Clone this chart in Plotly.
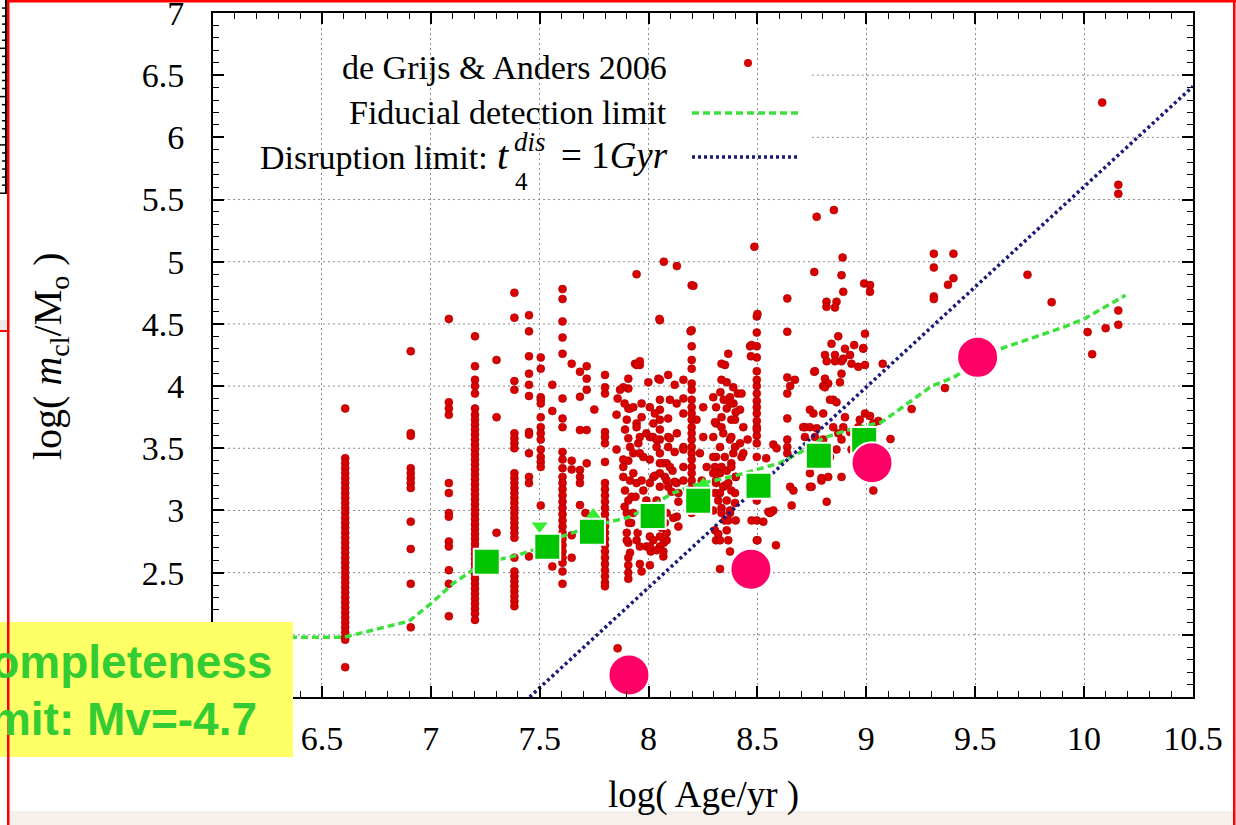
import plotly.graph_objects as go

# ---------------- data ----------------
# de Grijs & Anders 2006 clusters that sit in vertical runs at a shared age
age_661 = 6.607
mass_661 = [3.82, 3.42, 3.38, 3.34, 3.30, 3.26, 3.22, 3.18, 3.14, 3.10, 3.06, 3.02,
            2.98, 2.94, 2.90, 2.86, 2.82, 2.78, 2.74, 2.70, 2.66, 2.62, 2.58, 2.54,
            2.50, 2.46, 2.42, 2.38, 2.34, 2.30, 2.26, 2.22, 2.18, 2.14, 2.10, 2.06,
            2.02, 1.98, 1.96, 1.74]
age_691 = 6.908
mass_691 = [4.28, 3.62, 3.60, 3.34, 3.30, 3.26, 3.22, 3.18, 2.91, 2.69, 2.41, 2.06]
age_708 = 7.083
mass_708 = [4.54, 3.87, 3.82, 3.77, 3.22, 3.14, 2.98, 2.95, 2.75, 2.71, 2.52, 2.41, 2.15]
age_720 = 7.203
mass_720 = [4.40, 4.16, 4.05, 4.00, 3.94, 3.82, 3.77, 3.73, 3.69, 3.65, 3.61, 3.57,
            3.53, 3.49, 3.45, 3.41, 3.37, 3.33, 3.29, 3.25, 3.21, 3.17, 3.13, 3.09,
            3.05, 3.01, 2.97, 2.93, 2.89, 2.85, 2.81, 2.77, 2.73, 2.69, 2.65, 2.61,
            2.57, 2.53, 2.49, 2.45, 2.41, 2.37, 2.33, 2.29, 2.25, 2.21, 2.17, 2.12]
age_730 = 7.302
mass_730 = [4.21, 3.75, 2.82]
age_738 = 7.384
mass_738 = [4.75, 4.55, 4.04, 3.97, 3.62, 3.58, 3.54, 3.50, 3.30, 3.26, 3.22, 3.18,
            3.14, 3.10, 3.06, 3.02, 2.98, 2.94, 2.90, 2.86, 2.82, 2.78, 2.62, 2.51,
            2.47, 2.43, 2.39, 2.35, 2.31, 2.27, 2.23]
age_745 = 7.451
mass_745 = [4.57, 4.44, 4.24, 4.10, 4.01, 3.92, 3.63, 3.61, 3.46, 3.27, 3.22, 2.63]
age_750 = 7.505
mass_750 = [4.23, 4.14, 3.91, 3.89, 3.86, 3.75, 3.67, 3.62, 3.57, 3.49, 3.43, 3.39,
            3.35, 3.04, 2.73]
age_756 = 7.558
mass_756 = [4.01, 3.80, 2.55]
age_760 = 7.605
mass_760 = [4.78, 4.70, 4.52, 4.39, 4.26, 3.90, 3.74, 3.67, 3.47, 3.41, 3.34, 3.27,
            3.22, 3.17, 3.12, 3.07, 3.02, 2.97, 2.92, 2.87, 2.82, 2.77, 2.72, 2.67,
            2.62, 2.58, 2.51, 2.41]
age_765 = 7.647
mass_765 = [4.18, 3.40, 3.33, 2.80, 2.62]
age_780 = 7.800
mass_780 = [4.09, 3.99, 3.94, 3.63, 3.59, 3.54, 3.39, 3.22, 3.17, 3.12, 3.07, 3.02,
            2.97, 2.92, 2.87, 2.82, 2.77, 2.72, 2.67, 2.62, 2.57, 2.52, 2.47, 2.42, 2.39]
age_791 = 7.907
mass_791 = [3.98, 3.82, 3.58, 3.40, 3.08, 2.62, 2.50]
age_820 = 8.198
mass_820 = [4.81, 4.45, 4.32, 4.21, 4.14, 4.02, 3.97, 3.89, 3.83, 3.78, 3.73, 3.67,
            3.62, 3.57, 3.51, 3.46, 3.41, 3.35, 3.30, 3.24, 3.19, 2.98]
age_850 = 8.497
mass_850 = [4.56, 4.43, 4.32, 4.23, 4.12, 4.05, 4.00, 3.94, 3.88, 3.83, 3.78, 3.72,
            3.67, 3.65, 3.60, 3.54, 3.43, 3.08, 2.92, 2.76]

# de Grijs & Anders 2006 clusters scattered in the cloud: (log age, log mass)
cloud_a = [(7.685, 4.115), (7.716, 4.16), (7.716, 4.06), (7.716, 3.97), (7.685, 3.914),
           (7.716, 3.646), (7.685, 3.646), (7.716, 3.379), (7.685, 3.325), (7.685, 3.27),
           (7.685, 3.22), (7.685, 3.043), (7.71, 2.98), (7.751, 3.811), (7.858, 3.90),
           (7.884, 3.99), (7.907, 4.06), (7.938, 4.18), (7.96, 4.17), (7.915, 3.82),
           (7.853, 3.77), (7.892, 3.65), (7.945, 3.70), (7.968, 3.86), (7.968, 3.75),
           (7.999, 4.03), (8.006, 3.83), (8.022, 3.70), (7.853, 3.49), (7.884, 3.41),
           (7.915, 3.51), (7.93, 3.46), (7.953, 3.54), (7.976, 3.43), (8.006, 3.59),
           (8.037, 3.51), (8.068, 3.38), (7.884, 3.27), (7.915, 3.24), (7.892, 3.16),
           (7.922, 3.11), (7.945, 3.22), (7.976, 3.16), (8.006, 3.22), (7.90, 2.98),
           (7.92, 2.90), (7.90, 2.82), (7.945, 2.76), (7.907, 2.74), (7.907, 2.56),
           (7.96, 2.57), (8.006, 2.56), (7.968, 2.51), (7.907, 2.45), (7.99, 2.71),
           (8.01, 2.67), (8.07, 2.74), (7.869, 3.97), (7.89, 3.86), (7.93, 3.83),
           (7.96, 4.20), (7.945, 4.17), (7.90, 3.73), (7.945, 3.67), (7.99, 3.62),
           (8.02, 3.59), (7.96, 3.59), (7.96, 3.46), (8.006, 3.41), (7.884, 3.35),
           (7.93, 3.30), (7.968, 3.24), (8.022, 3.27), (7.94, 3.11), (7.89, 3.03),
           (7.93, 2.98), (7.91, 2.90), (7.90, 2.76), (7.915, 2.66), (7.99, 3.08),
           (7.95, 2.82), (8.006, 2.79), (7.96, 2.71), (8.006, 2.71), (7.858, 1.891)]
cloud_b = [(8.045, 4.06), (8.09, 4.09), (8.052, 4.53), (8.052, 4.05), (8.052, 3.89),
           (8.052, 3.81), (8.052, 3.73), (8.052, 3.65), (8.052, 3.57), (8.052, 3.46),
           (8.052, 3.38), (8.052, 3.30), (8.052, 2.79), (8.052, 2.71), (8.09, 3.59),
           (8.13, 3.62), (8.083, 3.38), (8.11, 3.32), (8.083, 3.24), (8.09, 3.19),
           (8.075, 2.90), (8.083, 2.82), (8.13, 2.95), (8.137, 2.87), (8.09, 3.51),
           (8.12, 3.47), (8.129, 3.22), (8.137, 3.14), (8.16, 4.05), (8.251, 3.83),
           (8.22, 3.73), (8.251, 3.59), (8.236, 3.46), (8.267, 3.35), (8.244, 3.24),
           (8.16, 3.78), (8.16, 3.51), (8.16, 3.35), (8.12, 4.01), (8.098, 3.89),
           (8.129, 3.86), (8.16, 3.90), (8.029, 3.78), (8.09, 3.74), (8.037, 3.57),
           (8.098, 3.58), (8.16, 3.49), (8.098, 3.35), (8.029, 3.28), (8.075, 3.27),
           (8.12, 3.23), (8.16, 3.24), (8.052, 3.19), (8.106, 3.15), (8.037, 3.08),
           (8.137, 3.07), (8.083, 2.98), (8.114, 2.94), (8.06, 2.86), (8.083, 2.76),
           (8.037, 2.68), (8.068, 2.63), (8.022, 2.76), (8.068, 2.67)]
cloud_c = [(8.366, 4.26), (8.351, 4.17), (8.359, 4.03), (8.33, 3.95), (8.345, 3.89),
           (8.374, 3.91), (8.39, 3.86), (8.41, 3.94), (8.359, 3.82), (8.40, 3.79),
           (8.38, 3.73), (8.335, 3.75), (8.31, 3.70), (8.343, 3.62), (8.374, 3.57),
           (8.397, 3.51), (8.328, 3.51), (8.31, 3.43), (8.35, 3.43), (8.38, 3.38),
           (8.305, 3.35), (8.328, 3.30), (8.359, 3.32), (8.40, 3.27), (8.31, 3.22),
           (8.35, 3.20), (8.38, 3.16), (8.328, 3.14), (8.359, 3.08), (8.397, 3.06),
           (8.335, 3.02), (8.374, 2.98), (8.35, 2.92), (8.359, 2.84), (8.31, 2.76),
           (8.374, 2.67), (8.328, 2.53), (8.297, 3.91), (8.31, 3.83), (8.305, 3.71),
           (8.335, 3.67), (8.297, 3.59), (8.297, 3.43), (8.335, 3.35), (8.297, 3.30),
           (8.31, 3.24), (8.343, 3.19), (8.305, 3.14), (8.32, 3.08), (8.297, 3.00),
           (8.335, 2.98), (8.305, 2.84), (8.328, 2.76), (8.389, 3.99), (8.427, 3.94),
           (8.374, 3.86), (8.42, 3.81), (8.397, 3.73), (8.435, 3.67), (8.38, 3.59),
           (8.42, 3.54), (8.389, 3.46), (8.427, 3.43), (8.38, 3.35), (8.40, 3.27),
           (8.366, 3.22), (8.397, 3.14), (8.374, 3.00), (8.40, 2.92), (8.366, 2.76),
           (8.335, 4.18), (8.335, 4.05), (8.32, 2.81), (8.366, 2.92)]
cloud_d = [(8.466, 4.32), (8.455, 3.57), (8.435, 3.46), (8.54, 3.42), (8.573, 3.53),
           (8.588, 3.50), (8.473, 2.92), (8.527, 2.91), (8.55, 2.99), (8.565, 2.99),
           (8.585, 2.72), (8.5, 2.76), (8.573, 3.00), (8.557, 2.98), (8.473, 4.33),
           (8.47, 4.24), (8.5, 4.58), (8.486, 5.12), (8.637, 4.705), (8.637, 4.437),
           (8.637, 4.07), (8.65, 4.00), (8.637, 3.94), (8.637, 3.74), (8.637, 3.57),
           (8.637, 3.51), (8.637, 3.46), (8.657, 3.04), (8.672, 4.05), (8.65, 3.19),
           (8.665, 3.16)]
cloud_e = [(8.761, 4.115), (8.741, 3.81), (8.757, 3.78), (8.718, 3.67), (8.741, 3.19),
           (8.818, 3.07), (8.794, 3.24), (8.825, 3.27), (8.886, 3.27), (8.81, 4.25),
           (8.818, 4.20), (8.84, 4.34), (8.871, 4.40), (8.856, 4.25), (8.925, 4.25),
           (8.886, 4.20), (8.932, 4.18), (8.963, 4.155), (8.994, 4.17), (8.944, 4.33),
           (8.986, 4.30), (8.886, 4.10), (8.879, 4.03), (8.802, 4.00), (8.848, 3.89),
           (8.863, 3.87), (8.802, 3.78), (8.902, 3.75), (8.848, 3.67), (8.894, 3.67),
           (8.925, 3.63), (8.871, 3.62), (8.963, 3.67), (8.994, 3.78), (9.032, 3.70),
           (8.886, 3.57), (8.863, 3.49), (8.833, 3.43), (8.932, 3.49), (9.032, 3.16),
           (8.81, 4.06), (8.825, 4.02), (8.81, 3.99), (8.833, 3.89), (8.741, 3.67),
           (8.772, 3.66), (8.71, 3.67), (8.802, 3.57), (8.764, 3.59), (8.718, 3.59),
           (8.97, 3.73), (9.017, 3.76), (9.055, 3.72), (8.794, 3.26), (8.749, 3.19),
           (8.741, 3.30), (8.764, 4.12), (8.902, 4.30), (8.894, 4.22), (8.856, 4.20),
           (8.994, 4.42), (8.986, 4.306), (9.075, 4.179), (9.111, 3.574), (9.208, 3.815),
           (9.361, 3.984)]
cloud_top = [(7.945, 4.90), (8.07, 5.00), (8.13, 4.965), (8.206, 4.806), (8.05, 4.54),
             (8.193, 4.44), (8.772, 5.361), (8.851, 5.415), (8.891, 5.034), (8.761, 4.918),
             (8.886, 4.892), (8.894, 4.758), (8.817, 4.678), (8.863, 4.678), (8.817, 4.637),
             (8.856, 4.632), (8.99, 4.825), (9.017, 4.812), (9.017, 4.758), (9.31, 5.064),
             (9.40, 5.064), (9.31, 4.954), (9.40, 4.868), (9.375, 4.814), (9.31, 4.721),
             (9.31, 4.70), (9.74, 4.895), (9.851, 4.675), (10.083, 6.28), (10.157, 5.618),
             (10.157, 5.546), (10.157, 4.608), (10.157, 4.493), (10.099, 4.466),
             (10.016, 4.434), (10.037, 4.257)]

# Fiducial detection limit (green dashed)
fid_age = [6.00, 6.60, 6.90, 7.00, 7.10, 7.20, 7.30, 7.40, 7.50, 7.60, 7.70, 7.80, 7.90,
           8.00, 8.10, 8.20, 8.30, 8.40, 8.50, 8.60, 8.70, 8.80, 8.90, 9.00, 9.07, 9.30,
           9.40, 9.50, 9.60, 9.90, 10.00, 10.19]
fid_mass = [1.98, 1.98, 2.11, 2.25, 2.41, 2.53, 2.60, 2.64, 2.70, 2.79, 2.85, 2.90, 2.94,
            3.02, 3.13, 3.20, 3.24, 3.28, 3.33, 3.38, 3.47, 3.58, 3.64, 3.68, 3.71, 4.00,
            4.07, 4.18, 4.29, 4.47, 4.54, 4.73]

# Disruption limit t4_dis = 1 Gyr (blue dotted)
dis_age = [7.454, 10.50]
dis_mass = [1.50, 6.41]

# overlaid markers
sq_age = [7.257, 7.535, 7.740, 8.019, 8.228, 8.505, 8.782, 8.990]
sq_mass = [2.588, 2.708, 2.829, 2.955, 3.078, 3.199, 3.440, 3.566]
circ_age = [7.910, 8.470, 9.026, 9.511]
circ_mass = [1.677, 2.527, 3.383, 4.231]
tri_up_age = [7.746, 8.251]
tri_up_mass = [2.955, 3.200]
tri_dn_age = [7.500]
tri_dn_mass = [2.875]

x_ticks = [6, 6.5, 7, 7.5, 8, 8.5, 9, 9.5, 10, 10.5]
y_ticks = [1.5, 2, 2.5, 3, 3.5, 4, 4.5, 5, 5.5, 6, 6.5, 7]
grid_full = [2, 2.5, 3, 3.5, 4, 4.5, 5, 5.5]
grid_right = [6, 6.5]

# ---------------- build ----------------
columns = [(age_661, mass_661), (age_691, mass_691), (age_708, mass_708),
           (age_720, mass_720), (age_730, mass_730), (age_738, mass_738),
           (age_745, mass_745), (age_750, mass_750), (age_756, mass_756),
           (age_760, mass_760), (age_765, mass_765), (age_780, mass_780),
           (age_791, mass_791), (age_820, mass_820), (age_850, mass_850)]
dg_age, dg_mass = [], []
for a, ms in columns:
    dg_age += [a] * len(ms)
    dg_mass += ms
for group in (cloud_a, cloud_b, cloud_c, cloud_d, cloud_e, cloud_top):
    dg_age += [p[0] for p in group]
    dg_mass += [p[1] for p in group]

W, H = 1236, 825
L, R, T, B = 213, 43, 13, 128
PW, PH = W - L - R, H - T - B


def px(xp):
    return (xp - L) / PW


def py(yp):
    return (H - B - yp) / PH


RED = '#d80000'
GREEN_LINE = '#3ee03e'
BLUE_LINE = '#1a1a78'
SERIF = 'Liberation Serif'

fig = go.Figure()
fig.add_trace(go.Scatter(x=dg_age, y=dg_mass, mode='markers',
                         marker=dict(size=8, color=RED, line=dict(width=0.6, color='#a80000')),
                         hoverinfo='skip'))
fig.add_trace(go.Scatter(x=fid_age, y=fid_mass, mode='lines',
                         line=dict(color=GREEN_LINE, width=3.5, dash='7px,4px'),
                         hoverinfo='skip'))
fig.add_trace(go.Scatter(x=dis_age, y=dis_mass, mode='lines',
                         line=dict(color=BLUE_LINE, width=3.5, dash='3px,3px'),
                         hoverinfo='skip'))
fig.add_trace(go.Scatter(x=tri_up_age, y=tri_up_mass, mode='markers',
                         marker=dict(symbol='triangle-up', size=16, color='#33ee33',
                                     line=dict(width=0)), hoverinfo='skip'))
fig.add_trace(go.Scatter(x=tri_dn_age, y=tri_dn_mass, mode='markers',
                         marker=dict(symbol='triangle-down', size=14, color='#33ee33',
                                     line=dict(width=0)), hoverinfo='skip'))
fig.add_trace(go.Scatter(x=sq_age, y=sq_mass, mode='markers',
                         marker=dict(symbol='square', size=26, color='#00c400',
                                     line=dict(color='white', width=2)),
                         hoverinfo='skip'))
fig.add_trace(go.Scatter(x=circ_age, y=circ_mass, mode='markers',
                         marker=dict(symbol='circle', size=41, color='#ff0066',
                                     line=dict(color='white', width=2)),
                         hoverinfo='skip'))

shapes = []
GRID = dict(color='#8c8c8c', width=1, dash='2px,3px')
for g in grid_full:
    shapes.append(dict(type='line', xref='x', yref='y', x0=6, x1=10.5, y0=g, y1=g,
                       line=GRID, layer='below'))
for g in grid_right:
    shapes.append(dict(type='line', xref='x', yref='y', x0=8.75, x1=10.5, y0=g, y1=g,
                       line=GRID, layer='below'))

# legend samples
shapes.append(dict(type='circle', xref='paper', yref='paper',
                   x0=px(744), x1=px(752), y0=py(67), y1=py(59),
                   fillcolor=RED, line=dict(width=0), layer='above'))
shapes.append(dict(type='line', xref='paper', yref='paper', x0=px(692), x1=px(799),
                   y0=py(113), y1=py(113),
                   line=dict(color=GREEN_LINE, width=3.5, dash='7px,4px'), layer='above'))
shapes.append(dict(type='line', xref='paper', yref='paper', x0=px(692), x1=px(799),
                   y0=py(157), y1=py(157),
                   line=dict(color=BLUE_LINE, width=3.5, dash='3px,3px'), layer='above'))

# yellow call-out box
shapes.append(dict(type='rect', xref='paper', yref='paper', x0=px(-5), x1=px(293),
                   y0=py(757), y1=py(622), fillcolor='#ffff66', line=dict(width=0),
                   layer='above'))

# slide frame decorations
shapes.append(dict(type='rect', xref='paper', yref='paper', x0=px(9), x1=px(1233),
                   y0=py(825), y1=py(811), fillcolor='#f5f0eb', line=dict(width=0),
                   layer='below'))
for (x0, y0, x1, y1) in [(7, 0, 1236, 2.5), (7, 0, 9.5, 825), (1233, 0, 1235.5, 825),
                         (0, 330, 8, 332)]:
    shapes.append(dict(type='rect', xref='paper', yref='paper', x0=px(x0), x1=px(x1),
                       y0=py(y1), y1=py(y0), fillcolor='#ff0000', line=dict(width=0),
                       layer='above'))
shapes.append(dict(type='rect', xref='paper', yref='paper', x0=px(0), x1=px(7),
                   y0=py(330), y1=py(320), fillcolor='#eeeae6', line=dict(width=0),
                   layer='above'))
shapes.append(dict(type='rect', xref='paper', yref='paper', x0=px(5), x1=px(7),
                   y0=py(194), y1=py(0), fillcolor='black', line=dict(width=0),
                   layer='above'))
for k in range(1, 25):
    yy = k * 8.05
    x_start = 0 if k % 6 == 0 else 2
    shapes.append(dict(type='line', xref='paper', yref='paper', x0=px(x_start),
                       x1=px(6), y0=py(yy), y1=py(yy),
                       line=dict(color='black', width=1.5), layer='above'))

annotations = []


def ann(text, xp, yp, size, xanchor='center', yanchor='middle', family=SERIF,
        color='black', angle=0, align='center'):
    annotations.append(dict(text=text, x=px(xp), y=py(yp), xref='paper', yref='paper',
                            xanchor=xanchor, yanchor=yanchor, showarrow=False,
                            textangle=angle, align=align,
                            font=dict(family=family, size=size, color=color)))


ann('de Grijs &amp; Anders 2006', 669, 67, 34, xanchor='right')
ann('Fiducial detection limit', 669, 112, 34, xanchor='right')
ann('Disruption limit:', 258, 157, 34, xanchor='left')
ann('<i>t</i>', 495, 155, 40, xanchor='left')
ann('<i>dis</i>', 512, 142, 27, xanchor='left')
ann('4', 513, 181, 25, xanchor='left')
ann('= 1<i>Gyr</i>', 670, 155, 37, xanchor='right')
ann('log( Age/yr )', 703, 795, 37)
ann('log( <i>m</i><sub>cl</sub>/M<sub>o</sub> )', 50, 356, 40, angle=-90)
ann('<b>Completeness</b>', 274, 662, 46, xanchor='right',
    family='Liberation Sans', color='#33cc33')
ann('<b>Limit: Mv=-4.7</b>', 259, 719, 46, xanchor='right',
    family='Liberation Sans', color='#33cc33')

AX_COMMON = dict(ticks='inside', ticklen=11, tickwidth=1.5, tickcolor='black',
                 showline=True, linewidth=2, linecolor='black', mirror='allticks',
                 zeroline=False, fixedrange=True, ticklabeloverflow='allow',
                 automargin=False,
                 tickfont=dict(family=SERIF, size=34, color='black'),
                 minor=dict(dtick=0.1, ticks='inside', ticklen=6, tickwidth=1.2,
                            tickcolor='black', showgrid=False))

fig.update_layout(
    width=W, height=H,
    margin=dict(l=L, r=R, t=T, b=B, pad=0, autoexpand=False),
    paper_bgcolor='white', plot_bgcolor='white',
    showlegend=False,
    xaxis=dict(range=[6, 10.5], tickmode='array', tickvals=x_ticks,
               ticktext=[f'{v:g}' for v in x_ticks],
               showgrid=True, gridcolor='#8c8c8c', gridwidth=1, griddash='2px,3px',
               ticklabelstandoff=10, **AX_COMMON),
    yaxis=dict(range=[1.5, 7], tickmode='array', tickvals=y_ticks,
               ticktext=[f'{v:g}' for v in y_ticks],
               showgrid=False, ticklabelstandoff=20, **AX_COMMON),
    shapes=shapes,
    annotations=annotations,
)

fig.write_html('out.html')
